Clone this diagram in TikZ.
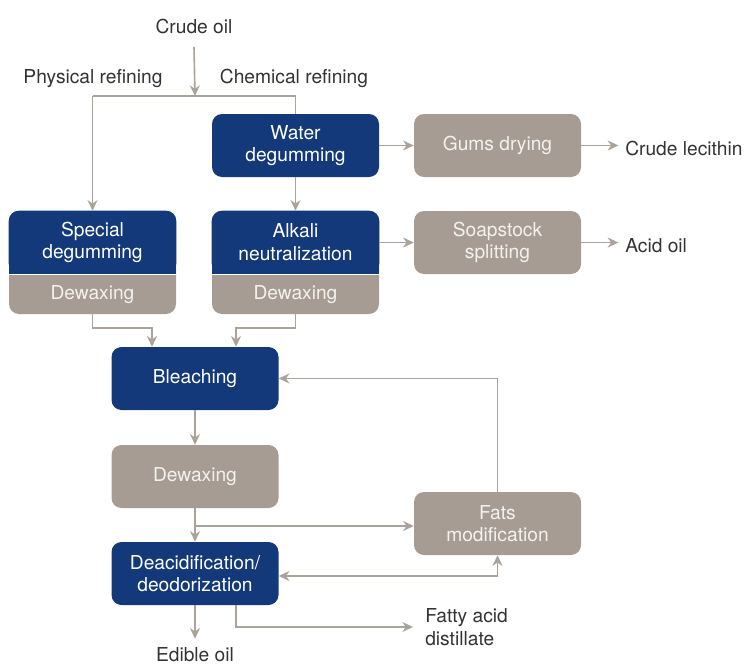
\documentclass[tikz,border=0pt]{standalone}
\usepackage{fontspec}
\setmainfont{TeX Gyre Heros}
\usetikzlibrary{arrows.meta,calc}
\definecolor{dblue}{HTML}{14397B}
\definecolor{bgray}{HTML}{A69C93}
\definecolor{lgray}{HTML}{ABA29A}
\definecolor{tgray}{HTML}{333333}
\definecolor{gtext}{HTML}{F4F1EE}
\newcommand{\dfont}{\fontsize{14.4pt}{16.9pt}\selectfont}
\begin{document}
\begin{tikzpicture}[x=0.75pt,y=-0.75pt,
  box/.style={rounded corners=7.5pt, minimum width=125.25pt, minimum height=47.25pt,
    inner sep=0pt, align=center, font=\dfont},
  bluebox/.style={box, fill=dblue, text=white},
  graybox/.style={box, fill=bgray, text=gtext},
  splitbox/.style={box, fill=bgray, minimum height=77.25pt},
  intext/.style={inner sep=0pt, align=center, font=\dfont},
  lbl/.style={inner sep=0pt, align=left, font=\dfont, text=tgray},
  line/.style={draw=lgray, line width=1.2pt},
  conn/.style={line, -{Stealth[length=8pt,width=7.5pt,inset=2.6pt]}},
  conn2/.style={line, {Stealth[length=8pt,width=7.5pt,inset=2.6pt]}-{Stealth[length=8pt,width=7.5pt,inset=2.6pt]}}
]
\useasboundingbox (0,0) rectangle (747,664);

% labels
\node[lbl, anchor=base] (crude) at (194,33) {Crude oil};
\node[lbl, anchor=base] (phys) at (93,83) {Physical refining};
\node[lbl, anchor=base] (chem) at (294,83) {Chemical refining};

% boxes
\node[bluebox] (water) at (295.5,145.5) {Water\\degumming};
\node[graybox] (gums) at (497.5,145.5) {Gums drying};
\node[lbl, anchor=base west] (lec) at (625,155) {Crude lecithin};

% split boxes
\node[splitbox] (spec) at (92.5,262.5) {};
\fill[dblue, rounded corners=7.5pt] (spec.north west) rectangle ($(spec.north east)+(0,63)$);
\fill[dblue] ($(spec.north west)+(0,50)$) rectangle ($(spec.north east)+(0,63)$);
\draw[white, line width=0.8pt] ($(spec.north west)+(0,63.5)$) -- ($(spec.north east)+(0,63.5)$);
\node[intext, text=white] (specT) at ($(spec.north)+(0,31.5)$) {Special\\degumming};
\node[intext, text=gtext] (specB) at ($(spec.south)+(0,-20)$) {Dewaxing};

\node[splitbox] (alk) at (295.5,262.5) {};
\fill[dblue, rounded corners=7.5pt] (alk.north west) rectangle ($(alk.north east)+(0,63)$);
\fill[dblue] ($(alk.north west)+(0,50)$) rectangle ($(alk.north east)+(0,63)$);
\draw[white, line width=0.8pt] ($(alk.north west)+(0,63.5)$) -- ($(alk.north east)+(0,63.5)$);
\node[intext, text=white] (alkT) at ($(alk.north)+(0,31.5)$) {Alkali\\neutralization};
\node[intext, text=gtext] (alkB) at ($(alk.south)+(0,-20)$) {Dewaxing};

\node[graybox] (soap) at (497.5,242.5) {Soapstock\\splitting};
\node[lbl, anchor=base west] (acid) at (625,252) {Acid oil};

\node[bluebox] (bleach) at (195,378.5) {Bleaching};
\node[graybox] (dewax) at (195,476.5) {Dewaxing};
\node[bluebox] (deacid) at (195,573.5) {Deacidification/\\deodorization};
\node[graybox] (fats) at (497.5,523.5) {Fats\\modification};
\node[lbl, anchor=west] (fad) at (425,627) {Fatty acid\\distillate};
\node[lbl, anchor=base] (edible) at (195,661) {Edible oil};

% connectors
\coordinate (split) at (195,96);
\coordinate (jl) at (92.5,96);
\coordinate (jr) at (295.5,96);
\draw[conn] (crude.base) ++(0,14) -- (split);
\draw[line] (jl) -- (jr);
\draw[conn] (jl) -- (spec.north);
\draw[line] (jr) -- (water.north);
\draw[conn] (water.east) -- (gums.west);
\draw[conn, shorten >=5pt] (gums.east) -- (gums.east -| lec.west);
\draw[conn] (water.south) -- (alk.north);
\draw[conn] (soap.west -| alk.east) -- (soap.west);
\draw[conn, shorten >=5pt] (soap.east) -- (soap.east -| acid.west);
\draw[conn] (spec.south) -- ++(0,14) -| ($(bleach.north)+(-43,0)$);
\draw[conn] (alk.south) -- ++(0,14) -| ($(bleach.north)+(41,0)$);
\draw[conn] (fats.north) |- (bleach.east);
\draw[conn] (bleach.south) -- (dewax.north);
\draw[conn] (dewax.south) -- (deacid.north);
\coordinate (br) at ($(dewax.south)!0.53!(deacid.north)$);
\draw[conn] (br) -- (br -| fats.west);
\draw[conn2] (fats.south) |- ($(deacid.east)+(0,2.5)$);
\draw[conn, shorten >=6pt] (deacid.south) -- (edible.north);
\draw[conn, shorten >=9pt] ($(deacid.south)+(41,0)$) |- (fad.west);
\end{tikzpicture}
\end{document}
